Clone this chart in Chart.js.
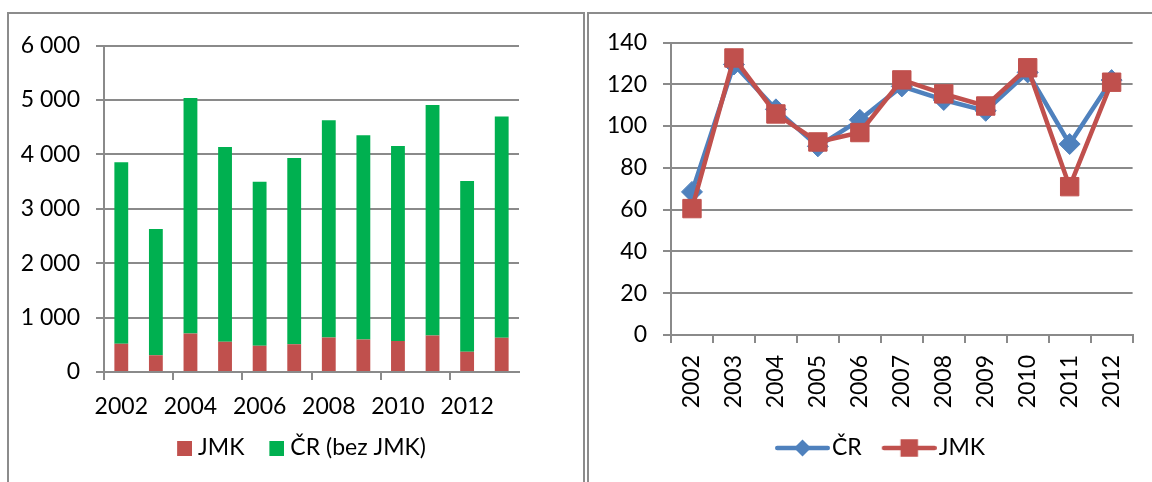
<!DOCTYPE html>
<html><head><meta charset="utf-8">
<script src="https://cdn.jsdelivr.net/npm/chart.js@4.4.1/dist/chart.umd.min.js"></script>
<style>
html,body{margin:0;padding:0;background:#fff;width:1152px;height:482px;overflow:hidden;}
#p1{position:absolute;left:7px;top:12px;width:578px;height:480px;box-sizing:border-box;border:2px solid #8c8c8c;border-bottom:none;}
#p2{position:absolute;left:587px;top:12px;width:600px;height:480px;box-sizing:border-box;border-left:2px solid #8c8c8c;border-top:2px solid #8c8c8c;}
#c1{position:absolute;left:0;top:0;}
#c2{position:absolute;left:586px;top:0;}
</style></head><body>
<div id="p1"></div><div id="p2"></div>
<canvas id="c1" width="586" height="482" style="width:586px;height:482px"></canvas>
<canvas id="c2" width="566" height="482" style="width:566px;height:482px"></canvas>
<script>
// ---- data: left chart (stacked bars) ----
const barYears = ['2002','2003','2004','2005','2006','2007','2008','2009','2010','2011','2012','2013'];
const barTickLabels = ['2002','2004','2006','2008','2010','2012'];
const jmkCounts = [521, 310, 706, 555, 482, 512, 632, 598, 571, 669, 371, 629];
const crBezJmkCounts = [3332, 2316, 4331, 3580, 3015, 3421, 3994, 3752, 3582, 4239, 3138, 4064];
const leftYTicks = ['0','1 000','2 000','3 000','4 000','5 000','6 000'];
const leftSeriesNames = ['JMK', 'ČR (bez JMK)'];

// ---- data: right chart (lines) ----
const lineYears = ['2002','2003','2004','2005','2006','2007','2008','2009','2010','2011','2012'];
const crIndex = [68.5, 129.5, 108, 90.3, 103, 119, 112.5, 107.3, 125.7, 91.4, 122];
const jmkIndex = [60.5, 132.6, 105.8, 92.4, 96.9, 122.1, 115.4, 109.6, 127.9, 71, 121];
const rightYTicks = ['0','20','40','60','80','100','120','140'];
const rightSeriesNames = ['ČR', 'JMK'];

const RED = '#C0504D', GREEN = '#00B050', BLUE = '#4F81BD', GRID = '#8a8a8a';
const FONT = {family: 'Lato', size: 23};

function img(w, h, draw) {
  const c = document.createElement('canvas');
  c.width = w; c.height = h;
  draw(c.getContext('2d'));
  return c;
}
function squareImg(color) {
  return img(31, 15, g => { g.fillStyle = color; g.fillRect(16, 0, 15, 15); });
}
function lineMarkerImg(color, marker) {
  return img(70, 26, g => {
    g.strokeStyle = color; g.lineWidth = 4.5; g.lineCap = 'round';
    g.beginPath(); g.moveTo(17.25, 13); g.lineTo(67.75, 13); g.stroke();
    g.fillStyle = color;
    g.beginPath();
    if (marker === 'diamond') {
      const r = 8.5;
      g.moveTo(42.5, 13 - r); g.lineTo(42.5 + r, 13); g.lineTo(42.5, 13 + r); g.lineTo(42.5 - r, 13); g.closePath();
    } else {
      const s = 17.5;
      g.rect(42.5 - s / 2, 13 - s / 2, s, s);
    }
    g.fill();
  });
}
// moves the legend box sideways (Excel centres it on the whole chart frame)
function shiftLegend(dx) {
  return {id: 'shiftLegend', afterLayout(chart) { if (chart.legend) { chart.legend.left += dx; chart.legend.right += dx; } }};
}

function draw() {
  // ---------- Left chart ----------
  new Chart(document.getElementById('c1'), {
    type: 'bar',
    data: {
      labels: barYears,
      datasets: [
        {label: leftSeriesNames[0], data: jmkCounts, backgroundColor: RED, borderWidth: 0},
        {label: leftSeriesNames[1], data: crBezJmkCounts, backgroundColor: GREEN, borderWidth: 0}
      ]
    },
    plugins: [shiftLegend(31.75)],
    options: {
      responsive: false, animation: false, devicePixelRatio: 1,
      layout: {padding: {left: 10, right: 67, top: 45.5, bottom: 12.5}},
      datasets: {bar: {categoryPercentage: 1, barPercentage: 0.4}},
      plugins: {
        tooltip: {enabled: false},
        legend: {
          position: 'bottom',
          labels: {
            usePointStyle: true, pointStyleWidth: 20, padding: 14.5, font: FONT, color: '#000',
            generateLabels: chart => chart.data.datasets.map((ds, i) => ({
              text: ds.label, fillStyle: ds.backgroundColor, strokeStyle: ds.backgroundColor, lineWidth: 0,
              pointStyle: squareImg(ds.backgroundColor), datasetIndex: i, hidden: false, fontColor: '#000'
            }))
          }
        }
      },
      scales: {
        x: {
          type: 'category', stacked: true, offset: true,
          grid: {offset: true, drawOnChartArea: false, drawTicks: true, tickLength: 8, lineWidth: 2, color: GRID,
                 tickColor: c => (c.index % 2 === 0 ? GRID : 'rgba(0,0,0,0)')},
          border: {display: true, color: GRID, width: 2},
          ticks: {font: FONT, color: '#000', maxRotation: 0, minRotation: 0, autoSkip: false, padding: 13,
                  callback: (v, i) => (i % 2 === 0 ? barTickLabels[i / 2] : '')},
          afterFit: s => { s.height = 50; }
        },
        y: {
          stacked: true, min: 0, max: 6000,
          ticks: {stepSize: 1000, font: FONT, color: '#000', padding: 16, callback: v => leftYTicks[Math.round(v / 1000)]},
          grid: {color: GRID, lineWidth: 2, tickLength: 8},
          border: {display: true, color: GRID, width: 2},
          afterFit: s => { s.width = 94; }
        }
      }
    }
  });

  // ---------- Right chart ----------
  const markerImgs = [lineMarkerImg(BLUE, 'diamond'), lineMarkerImg(RED, 'square')];
  new Chart(document.getElementById('c2'), {
    type: 'line',
    data: {
      labels: lineYears,
      datasets: [
        {label: rightSeriesNames[0], data: crIndex, borderColor: BLUE, backgroundColor: BLUE,
         borderWidth: 4.5, tension: 0, pointStyle: 'rectRot', pointRadius: 10.5, pointBorderWidth: 1,
         pointBackgroundColor: BLUE, pointBorderColor: BLUE, borderJoinStyle: 'round', borderCapStyle: 'round', order: 2},
        {label: rightSeriesNames[1], data: jmkIndex, borderColor: RED, backgroundColor: RED,
         borderWidth: 4.5, tension: 0, pointStyle: 'rect', pointRadius: 13, pointBorderWidth: 1,
         pointBackgroundColor: RED, pointBorderColor: RED, borderJoinStyle: 'round', borderCapStyle: 'round', order: 1}
      ]
    },
    plugins: [shiftLegend(11.75)],
    options: {
      responsive: false, animation: false, devicePixelRatio: 1,
      layout: {padding: {left: 10, right: 17, top: 42.5, bottom: 12.5}},
      plugins: {
        tooltip: {enabled: false},
        legend: {
          position: 'bottom',
          labels: {
            usePointStyle: true, pointStyleWidth: 51, padding: 14.5, font: FONT, color: '#000',
            generateLabels: chart => chart.data.datasets.map((ds, i) => ({
              text: ds.label, fillStyle: ds.borderColor, strokeStyle: ds.borderColor, lineWidth: 0,
              pointStyle: markerImgs[i], datasetIndex: i, hidden: false, fontColor: '#000'
            }))
          }
        }
      },
      scales: {
        x: {
          type: 'category', offset: true,
          grid: {offset: true, drawOnChartArea: false, drawTicks: true, tickLength: 8, color: GRID, lineWidth: 2},
          border: {display: true, color: GRID, width: 2},
          ticks: {font: FONT, color: '#000', minRotation: 90, maxRotation: 90, autoSkip: false, padding: 12},
          afterFit: s => { s.height = 87; }
        },
        y: {
          min: 0, max: 140,
          ticks: {stepSize: 20, font: FONT, color: '#000', padding: 16, callback: v => rightYTicks[Math.round(v / 20)]},
          grid: {color: GRID, lineWidth: 2, tickLength: 8},
          border: {display: true, color: GRID, width: 2},
          afterFit: s => { s.width = 75; }
        }
      }
    }
  });
}

if (document.fonts && document.fonts.load) {
  document.fonts.load('23px Lato').then(draw, draw);
} else { draw(); }
</script>
</body></html>
